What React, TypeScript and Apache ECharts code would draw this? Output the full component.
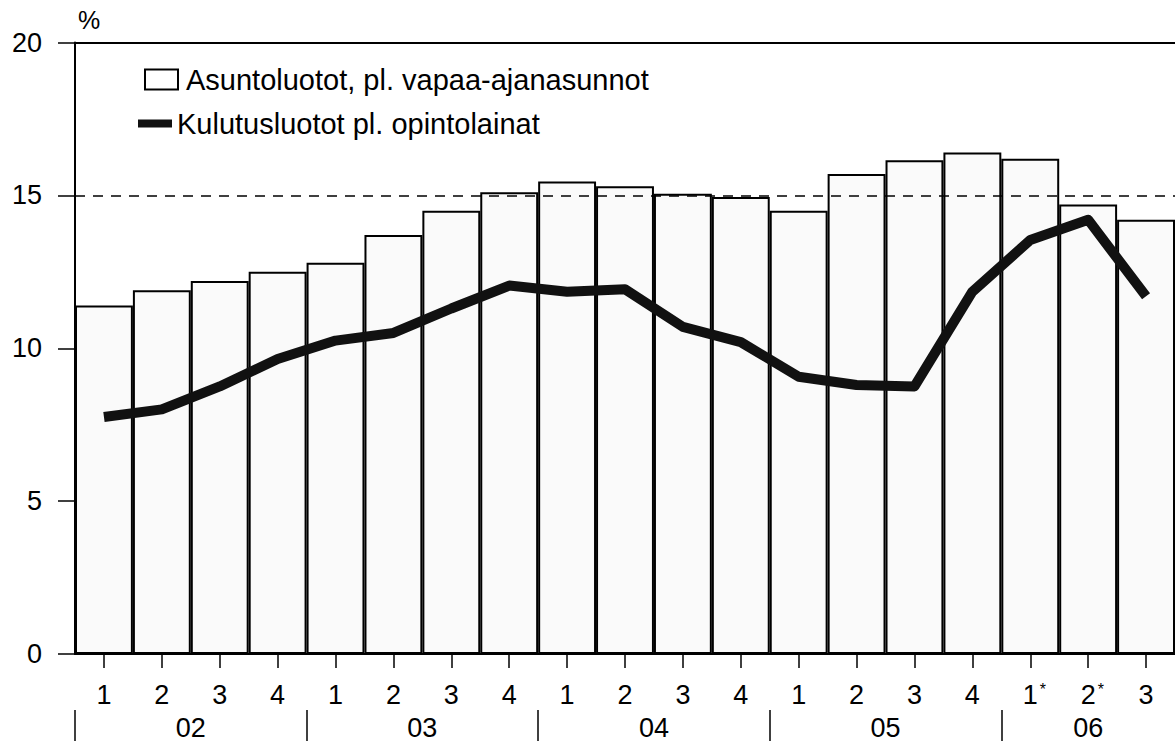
import React, { useEffect, useRef } from "react";
import * as echarts from "echarts";

const quarterLabels = ["1", "2", "3", "4", "1", "2", "3", "4", "1", "2", "3", "4", "1", "2", "3", "4", "1*", "2*", "3"];
const housingLoans = [11.4, 11.9, 12.2, 12.5, 12.8, 13.7, 14.5, 15.1, 15.45, 15.3, 15.05, 14.95, 14.5, 15.7, 16.15, 16.4, 16.2, 14.7, 14.2];
const consumerLoans = [7.75, 8.0, 8.75, 9.65, 10.25, 10.5, 11.3, 12.05, 11.85, 11.93, 10.7, 10.2, 9.07, 8.8, 8.75, 11.85, 13.54, 14.2, 11.7];
const yearLabels = ["02", "03", "04", "05", "06"];
const quartersPerYear = [4, 4, 4, 4, 3];
const housingName = "Asuntoluotot, pl. vapaa-ajanasunnot";
const consumerName = "Kulutusluotot pl. opintolainat";
const yMin = 0;
const yMax = 20;
const yStep = 5;
const referenceLevel = 15;

const FONT = "'Liberation Sans', Arial, Helvetica, sans-serif";

export default function App() {
  const ref = useRef<HTMLDivElement>(null);

  useEffect(() => {
    if (!ref.current) return;
    const chart = echarts.init(ref.current, null, { renderer: "svg" });

    // year group boundaries and centres in category-index units
    const boundaries: number[] = [-0.5];
    const centers: number[] = [];
    let start = 0;
    quartersPerYear.forEach((n) => {
      centers.push(start + (n - 1) / 2);
      start += n;
      boundaries.push(start - 0.5);
    });
    const separators = boundaries.slice(0, -1);

    const option: any = {
      animation: false,
      backgroundColor: "#ffffff",
      textStyle: { fontFamily: FONT, color: "#000" },
      grid: { left: 75, top: 42.5, width: 1103, height: 611.5, containLabel: false },
      legend: [
        {
          data: [housingName],
          left: 139,
          top: 60,
          itemWidth: 33,
          itemHeight: 20,
          icon: "rect",
          itemStyle: { color: "#ffffff", borderColor: "#000", borderWidth: 2 },
          textStyle: { fontFamily: FONT, fontSize: 29, color: "#000", padding: [0, 0, 0, 3] },
          selectedMode: false,
        },
        {
          data: [consumerName],
          left: 133,
          top: 104,
          itemWidth: 34,
          itemHeight: 8,
          icon: "rect",
          itemStyle: { color: "#111" },
          textStyle: { fontFamily: FONT, fontSize: 29, color: "#000" },
          selectedMode: false,
        },
      ],
      xAxis: [
        {
          type: "category",
          data: quarterLabels,
          position: "bottom",
          axisLine: { show: true, onZero: false, lineStyle: { color: "#000", width: 2 } },
          axisTick: { show: true, alignWithLabel: true, length: 14, lineStyle: { color: "#000", width: 1.5 } },
          axisLabel: {
            interval: 0,
            margin: 27,
            fontSize: 27,
            fontFamily: FONT,
            color: "#000",
            formatter: (v: string) => {
              if (v.endsWith("*")) {
                return "{e|*}" + v.slice(0, -1) + "{s|*}";
              }
              return v;
            },
            rich: {
              s: { fontSize: 16, fontFamily: FONT, color: "#000", verticalAlign: "top", padding: [0, 0, 10, 2] },
              e: { fontSize: 16, fontFamily: FONT, color: "transparent", verticalAlign: "top", padding: [0, 2, 10, 0] },
            },
          },
          splitLine: { show: false },
        },
        {
          type: "value",
          min: -0.5,
          max: quarterLabels.length - 0.5,
          position: "bottom",
          offset: 56,
          axisLine: { show: false, onZero: false },
          axisTick: {
            show: true,
            customValues: separators,
            length: 32,
            lineStyle: { color: "#000", width: 1.5 },
          },
          axisLabel: {
            show: true,
            customValues: centers,
            margin: 4,
            fontSize: 27,
            fontFamily: FONT,
            color: "#000",
            formatter: (v: number) => {
              const i = centers.findIndex((c) => Math.abs(c - v) < 0.01);
              return i >= 0 ? yearLabels[i] : "";
            },
          },
          splitLine: { show: false },
        },
        {
          type: "category",
          data: quarterLabels,
          position: "top",
          axisLine: { show: true, onZero: false, lineStyle: { color: "#000", width: 2 } },
          axisTick: { show: false },
          axisLabel: { show: false },
        },
      ],
      yAxis: {
        type: "value",
        min: yMin,
        max: yMax,
        interval: yStep,
        position: "left",
        name: "%",
        nameLocation: "end",
        nameGap: 10,
        nameTextStyle: { fontFamily: FONT, fontSize: 25, color: "#000", align: "left", padding: [0, 0, 0, 3] },
        axisLine: { show: true, onZero: false, lineStyle: { color: "#000", width: 2 } },
        axisTick: { show: true, length: 17, lineStyle: { color: "#000", width: 1.5 } },
        axisLabel: { margin: 33, fontSize: 27, fontFamily: FONT, color: "#000" },
        splitLine: { show: false },
      },
      series: [
        {
          name: "ref",
          type: "line",
          data: [],
          z: 1,
          silent: true,
          markLine: {
            silent: true,
            symbol: "none",
            label: { show: false },
            lineStyle: { color: "#000", width: 1.5, type: [10, 8] },
            data: [{ yAxis: referenceLevel }],
          },
        },
        {
          name: housingName,
          type: "bar",
          data: housingLoans,
          barWidth: "100%",
          barGap: "0%",
          z: 3,
          itemStyle: { color: "#fafafa", borderColor: "#000", borderWidth: 2 },
        },
        {
          name: consumerName,
          type: "line",
          data: consumerLoans,
          z: 5,
          symbol: "none",
          showSymbol: false,
          lineStyle: { color: "#111", width: 10, join: "round" },
        },
      ],
    };

    chart.setOption(option);
    return () => {
      chart.dispose();
    };
  }, []);

  return (
    <div
      ref={ref}
      style={{ position: "absolute", left: 0, top: 0, width: 1175, height: 741, background: "#fff" }}
    />
  );
}
